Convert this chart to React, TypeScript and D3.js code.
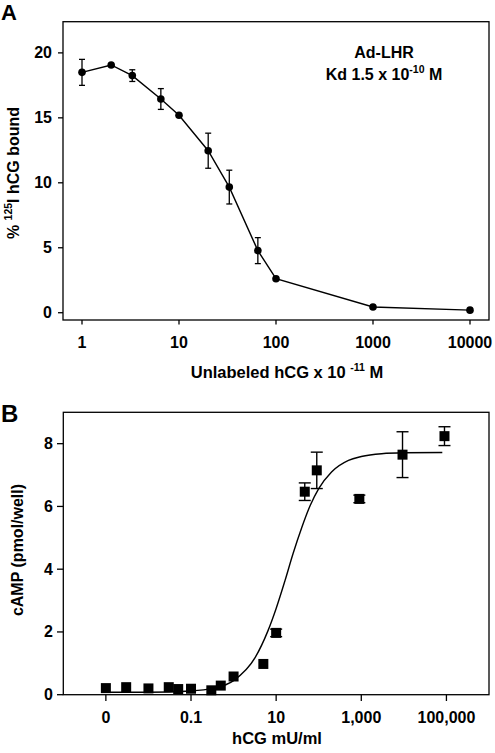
import React from "react";
import * as d3 from "d3";

// Panel A: competitive binding
const aConc = [1, 2, 3.3, 6.5, 10, 20, 33, 65, 100, 1000, 10000];
const aBound = [18.5, 19.07, 18.25, 16.45, 15.2, 12.47, 9.67, 4.78, 2.62, 0.44, 0.2];
const aErr = [1.0, 0, 0.45, 0.8, 0, 1.35, 1.3, 1.0, 0, 0, 0];
const aXTicks = [1, 10, 100, 1000, 10000];
const aXTickLabels = ["1", "10", "100", "1000", "10000"];
const aYTicks = [0, 5, 10, 15, 20];

// Panel B: cAMP dose response
const bConc = [0.001, 0.003, 0.01, 0.03, 0.05, 0.1, 0.3, 0.5, 1, 5, 10, 47, 90, 900, 9300, 90000];
const bCamp = [0.21, 0.24, 0.2, 0.24, 0.18, 0.19, 0.14, 0.29, 0.58, 0.98, 1.97, 6.47, 7.15, 6.24, 7.65, 8.24];
const bErr = [0, 0, 0, 0, 0, 0, 0, 0, 0, 0, 0.12, 0.28, 0.58, 0.12, 0.73, 0.3];
const bCurveX = [0.001, 0.01, 0.1, 0.32, 1, 3.2, 6.3, 10, 16, 25, 40, 63, 100, 200, 500, 1000, 3000, 10000, 80000];
const bCurveY = [0.08, 0.08, 0.12, 0.2, 0.45, 1.18, 2.01, 2.75, 3.62, 4.5, 5.33, 6.03, 6.57, 7.1, 7.47, 7.59, 7.68, 7.71, 7.72];
const bXTicks = [0.001, 0.1, 10, 1000, 100000];
const bXTickLabels = ["0", "0.1", "10", "1,000", "100,000"];
const bYTicks = [0, 2, 4, 6, 8];

const FONT = "'Liberation Sans', Arial, Helvetica, sans-serif";

export default function App() {
  const xA = d3.scaleLog().domain([0.637, 15700]).range([63, 489]);
  const yA = d3.scaleLinear().domain([-0.56, 22.4]).range([320, 21.7]);
  const xB = d3.scaleLog().domain([1e-4, 1e6]).range([63.3, 489]);
  const yB = d3.scaleLinear().domain([0, 9]).range([694.7, 412.3]);

  const aData = aConc.map((c, i) => ({ x: c, y: aBound[i], e: aErr[i] }));
  const bData = bConc.map((c, i) => ({ x: c, y: bCamp[i], e: bErr[i] }));
  const curve = bCurveX.map((c, i) => ({ x: c, y: bCurveY[i] }));

  const lineA = d3
    .line<{ x: number; y: number }>()
    .x((d) => xA(d.x))
    .y((d) => yA(d.y));
  const lineB = d3
    .line<{ x: number; y: number }>()
    .x((d) => xB(d.x))
    .y((d) => yB(d.y))
    .curve(d3.curveMonotoneX);

  const sw = 1.3;
  const sq = 10;

  return (
    <svg
      width={495}
      height={753}
      style={{ position: "absolute", left: 0, top: 0, background: "#fff" }}
      fontFamily={FONT}
      fontWeight="bold"
    >
      <rect x={0} y={0} width={495} height={753} fill="#fff" />
      {/* Panel A */}
      <text x={1} y={20} fontSize={22}>A</text>
      <rect x={63} y={21.7} width={426} height={298.3} fill="none" stroke="#000" strokeWidth={sw} />
      {aYTicks.map((t) => (
        <g key={"ay" + t}>
          <line x1={58} x2={63} y1={yA(t)} y2={yA(t)} stroke="#000" strokeWidth={sw} />
          <text x={52} y={yA(t) + 5.5} fontSize={16} textAnchor="end">{t}</text>
        </g>
      ))}
      {aXTicks.map((t, i) => (
        <g key={"ax" + t}>
          <line x1={xA(t)} x2={xA(t)} y1={320} y2={324.5} stroke="#000" strokeWidth={sw} />
          <text x={xA(t)} y={348} fontSize={16} textAnchor="middle">{aXTickLabels[i]}</text>
        </g>
      ))}
      <text x={287} y={378} fontSize={16.5} textAnchor="middle">
        Unlabeled hCG x 10 <tspan fontSize={10.5} dy={-7}>-11</tspan>
        <tspan dy={7}> M</tspan>
      </text>
      <text
        transform={`translate(19,173) rotate(-90)`}
        fontSize={16}
        textAnchor="middle"
      >
        % <tspan fontSize={10.5} dy={-7}>125</tspan>
        <tspan dy={7}>I hCG bound</tspan>
      </text>
      <text x={384} y={58.3} fontSize={16} textAnchor="middle">Ad-LHR</text>
      <text x={384} y={80} fontSize={16} textAnchor="middle">
        Kd 1.5 x 10<tspan fontSize={10.5} dy={-7}>-10</tspan>
        <tspan dy={7}> M</tspan>
      </text>
      <path d={lineA(aData) || ""} fill="none" stroke="#000" strokeWidth={1.4} />
      {aData.map((d, i) =>
        d.e > 0 ? (
          <g key={"ae" + i} stroke="#000" strokeWidth={1.3}>
            <line x1={xA(d.x)} x2={xA(d.x)} y1={yA(d.y - d.e)} y2={yA(d.y + d.e)} />
            <line x1={xA(d.x) - 3} x2={xA(d.x) + 3} y1={yA(d.y - d.e)} y2={yA(d.y - d.e)} />
            <line x1={xA(d.x) - 3} x2={xA(d.x) + 3} y1={yA(d.y + d.e)} y2={yA(d.y + d.e)} />
          </g>
        ) : null
      )}
      {aData.map((d, i) => (
        <circle key={"ac" + i} cx={xA(d.x)} cy={yA(d.y)} r={3.8} fill="#000" />
      ))}

      {/* Panel B */}
      <text x={1} y={422} fontSize={24}>B</text>
      <rect x={63.3} y={412.3} width={425.7} height={282.4} fill="none" stroke="#000" strokeWidth={sw} />
      {bYTicks.map((t) => (
        <g key={"by" + t}>
          <line x1={57} x2={63.3} y1={yB(t)} y2={yB(t)} stroke="#000" strokeWidth={sw} />
          <text x={53} y={yB(t) + 5.5} fontSize={16} textAnchor="end">{t}</text>
        </g>
      ))}
      {bXTicks.map((t, i) => (
        <g key={"bx" + t}>
          <line x1={xB(t)} x2={xB(t)} y1={694.7} y2={701} stroke="#000" strokeWidth={sw} />
          <text x={xB(t)} y={723} fontSize={16} textAnchor="middle">{bXTickLabels[i]}</text>
        </g>
      ))}
      <text x={277} y={744} fontSize={16.5} textAnchor="middle">hCG mU/ml</text>
      <text
        transform={`translate(23,550) rotate(-90)`}
        fontSize={16}
        textAnchor="middle"
      >
        cAMP (pmol/well)
      </text>
      <path d={lineB(curve) || ""} fill="none" stroke="#000" strokeWidth={1.4} />
      {bData.map((d, i) =>
        d.e > 0 ? (
          <g key={"be" + i} stroke="#000" strokeWidth={1.4}>
            <line x1={xB(d.x)} x2={xB(d.x)} y1={yB(d.y - d.e)} y2={yB(d.y + d.e)} />
            <line x1={xB(d.x) - 6} x2={xB(d.x) + 6} y1={yB(d.y - d.e)} y2={yB(d.y - d.e)} />
            <line x1={xB(d.x) - 6} x2={xB(d.x) + 6} y1={yB(d.y + d.e)} y2={yB(d.y + d.e)} />
          </g>
        ) : null
      )}
      {bData.map((d, i) => (
        <rect
          key={"bs" + i}
          x={xB(d.x) - sq / 2}
          y={yB(d.y) - sq / 2}
          width={sq}
          height={sq}
          fill="#000"
        />
      ))}
    </svg>
  );
}
